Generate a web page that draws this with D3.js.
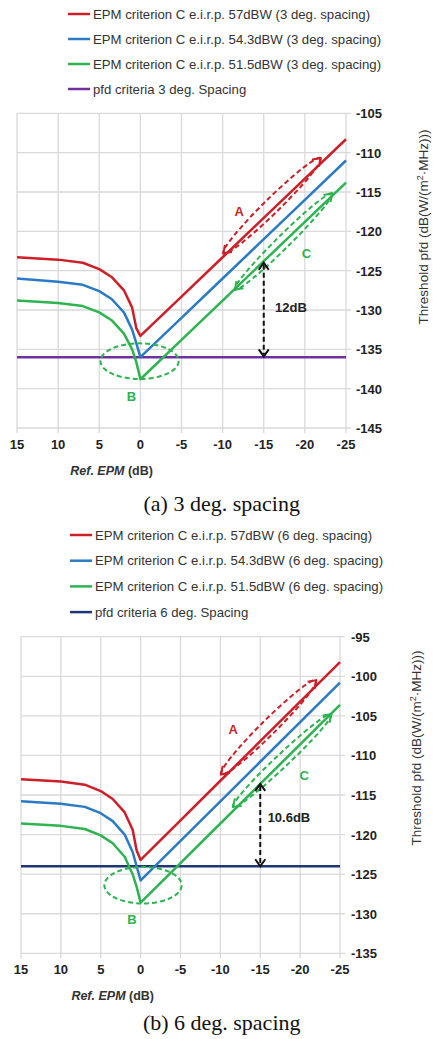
<!DOCTYPE html>
<html>
<head>
<meta charset="utf-8">
<script src="https://cdn.jsdelivr.net/npm/d3@7"></script>
<style>
  body { margin: 0; background: #fff; }
  svg { display: block; }
</style>
</head>
<body>
<script>
var W = 433, H = 1039;

// data
var epmX = [15, 10, 7, 5, 3.5, 2, 1, 0.5, 0, -5, -10, -15, -20, -25];

var red3 = [-123.3, -123.6, -124.0, -124.8, -125.8, -127.5, -129.7, -132.3, -133.3, -128.3, -123.3, -118.3, -113.3, -108.3];
var blue3 = [-126.0, -126.4, -126.8, -127.6, -128.6, -130.3, -132.5, -134.2, -136.0, -131.0, -126.0, -121.0, -116.0, -111.0];
var green3 = [-128.8, -129.1, -129.5, -130.3, -131.3, -133.0, -135.0, -136.6, -138.8, -133.8, -128.8, -123.8, -118.8, -113.8];
var pfd3 = -136;

var red6 = [-113.0, -113.3, -113.7, -114.5, -115.5, -117.2, -119.4, -122.0, -123.2, -118.2, -113.2, -108.2, -103.2, -98.2];
var blue6 = [-115.8, -116.1, -116.5, -117.3, -118.3, -120.0, -122.2, -124.0, -125.8, -120.8, -115.8, -110.8, -105.8, -100.8];
var green6 = [-118.6, -118.9, -119.3, -120.1, -121.1, -122.8, -125.0, -126.6, -128.6, -123.6, -118.6, -113.6, -108.6, -103.6];
var pfd6 = -124;

var xTicks = [15, 10, 5, 0, -5, -10, -15, -20, -25];
var yTicks3 = [-105, -110, -115, -120, -125, -130, -135, -140, -145];
var yTicks6 = [-95, -100, -105, -110, -115, -120, -125, -130, -135];

var legend3 = ["EPM criterion C e.i.r.p. 57dBW (3 deg. spacing)",
               "EPM criterion C e.i.r.p. 54.3dBW (3 deg. spacing)",
               "EPM criterion C e.i.r.p. 51.5dBW (3 deg. spacing)",
               "pfd criteria 3 deg. Spacing"];
var legend6 = ["EPM criterion C e.i.r.p. 57dBW (6 deg. spacing)",
               "EPM criterion C e.i.r.p. 54.3dBW (6 deg. spacing)",
               "EPM criterion C e.i.r.p. 51.5dBW (6 deg. spacing)",
               "pfd criteria 6 deg. Spacing"];

var RED = "#cc1f27", BLUE = "#2a7ac6", GREEN = "#2db350";

var svg = d3.select("body").append("svg")
    .attr("width", W)
    .attr("height", H);

var sans = "'Liberation Sans', Arial, sans-serif";

drawPanel({
    left: 17, right: 346, top: 113.3, bottom: 428,
    yDomain: [-145, -105], yTicks: yTicks3,
    series: [red3, blue3, green3], pfd: pfd3, pfdColor: "#7030a0",
    legend: legend3, legX: 68, legY: 14, legStep: 25,
    tickLabelX: 356, titleX: 428, titleY: 227,
    xLabelY: 449, xTitleY: 475, caption: "(a) 3 deg. spacing", captionY: 511,
    ellA: [[-10.1, -122.8], [-21.9, -110.7]], labA: [-12, -117.6],
    ellC: [[-11.5, -127.4], [-23.3, -115.2]], labC: [-20.2, -122.9],
    ellB: [0.1, -136.5, 4.75, 2.26], labB: [1.1, -141],
    arrow: [-15, -124.0, -135.9], arrowLabel: "12dB", arrowLabelPos: [-18.3, -130.3]
});

drawPanel({
    left: 21, right: 340, top: 636.7, bottom: 953.3,
    yDomain: [-135, -95], yTicks: yTicks6,
    series: [red6, blue6, green6], pfd: pfd6, pfdColor: "#1f3575",
    legend: legend6, legX: 70, legY: 535, legStep: 25.7,
    tickLabelX: 351, titleX: 421, titleY: 748,
    xLabelY: 974, xTitleY: 1000, caption: "(b) 6 deg. spacing", captionY: 1030,
    ellA: [[-10.1, -112.4], [-22.0, -100.5]], labA: [-11.6, -106.8],
    ellC: [[-11.6, -116.5], [-23.9, -104.8]], labC: [-20.5, -112.6],
    ellB: [-0.3, -126.4, 4.85, 2.3], labB: [1.1, -130.8],
    arrow: [-15, -113.6, -124.0], arrowLabel: "10.6dB", arrowLabelPos: [-18.6, -118.4]
});

function drawPanel(c) {
    var x = d3.scaleLinear().domain([15, -25]).range([c.left, c.right]);
    var y = d3.scaleLinear().domain(c.yDomain).range([c.bottom, c.top]);
    var g = svg.append("g");

    // grid
    g.selectAll(".vg").data(xTicks).enter().append("line")
        .attr("x1", d => x(d)).attr("x2", d => x(d))
        .attr("y1", c.top).attr("y2", c.bottom + 5)
        .attr("stroke", "#d9d9d9").attr("stroke-width", 1.3);
    g.selectAll(".hg").data(c.yTicks).enter().append("line")
        .attr("x1", c.left).attr("x2", c.right + 5)
        .attr("y1", d => y(d)).attr("y2", d => y(d))
        .attr("stroke", "#d9d9d9").attr("stroke-width", 1.3);

    // tick labels
    g.selectAll(".xl").data(xTicks).enter().append("text")
        .attr("x", d => x(d)).attr("y", c.xLabelY)
        .attr("text-anchor", "middle")
        .style("font", "bold 13px " + sans).attr("fill", "#222")
        .text(d => d);
    g.selectAll(".yl").data(c.yTicks).enter().append("text")
        .attr("x", c.tickLabelX).attr("y", d => y(d) + 5)
        .style("font", "bold 13px " + sans).attr("fill", "#222")
        .text(d => d);

    var xt = g.append("text").attr("x", x(3.5)).attr("y", c.xTitleY)
        .attr("text-anchor", "middle")
        .style("font", "bold 12.5px " + sans).attr("fill", "#333");
    xt.append("tspan").style("font-style", "italic").text("Ref. EPM");
    xt.append("tspan").text(" (dB)");

    var yt = g.append("text")
        .attr("transform", "translate(" + c.titleX + "," + c.titleY + ") rotate(-90)")
        .attr("text-anchor", "middle")
        .style("font", "13.5px " + sans).attr("fill", "#333");
    yt.append("tspan").text("Threshold pfd (dB(W/(m");
    yt.append("tspan").attr("dy", -5).style("font-size", "9px").text("2");
    yt.append("tspan").attr("dy", 5).text("\u00b7MHz)))");

    // pfd line
    g.append("line")
        .attr("x1", x(15)).attr("x2", x(-25))
        .attr("y1", y(c.pfd)).attr("y2", y(c.pfd))
        .attr("stroke", c.pfdColor).attr("stroke-width", 2.5);

    var line = d3.line().x((d, i) => x(epmX[i])).y(d => y(d));
    var cols = [RED, BLUE, GREEN];
    c.series.forEach(function (s, i) {
        g.append("path").datum(s)
            .attr("d", line)
            .attr("fill", "none")
            .attr("stroke", cols[i])
            .attr("stroke-width", 2.5)
            .attr("stroke-linejoin", "round");
    });

    // annotations
    longEllipse(g, x, y, c.ellA, 7.5, RED);
    longEllipse(g, x, y, c.ellC, 6.5, GREEN);

    g.append("ellipse")
        .attr("cx", x(c.ellB[0])).attr("cy", y(c.ellB[1]))
        .attr("rx", Math.abs(x(c.ellB[2]) - x(0)))
        .attr("ry", Math.abs(y(c.yDomain[0] + c.ellB[3]) - y(c.yDomain[0])))
        .attr("fill", "none").attr("stroke", GREEN)
        .attr("stroke-width", 2).attr("stroke-dasharray", "5,3");

    label(g, x(c.labA[0]), y(c.labA[1]), "A", RED);
    label(g, x(c.labC[0]), y(c.labC[1]), "C", GREEN);
    label(g, x(c.labB[0]), y(c.labB[1]), "B", GREEN);

    // dB arrow
    var ax = x(c.arrow[0]), ay1 = y(c.arrow[1]), ay2 = y(c.arrow[2]);
    g.append("line")
        .attr("x1", ax).attr("x2", ax).attr("y1", ay1 + 2).attr("y2", ay2 - 2)
        .attr("stroke", "#111").attr("stroke-width", 2).attr("stroke-dasharray", "5,3");
    g.append("path")
        .attr("d", "M" + (ax - 5) + "," + (ay1 + 7) + "L" + ax + "," + ay1 + "L" + (ax + 5) + "," + (ay1 + 7) +
                   "M" + (ax - 5) + "," + (ay2 - 7) + "L" + ax + "," + ay2 + "L" + (ax + 5) + "," + (ay2 - 7))
        .attr("fill", "none").attr("stroke", "#111").attr("stroke-width", 2);
    g.append("text")
        .attr("x", x(c.arrowLabelPos[0])).attr("y", y(c.arrowLabelPos[1]))
        .attr("text-anchor", "middle")
        .style("font", "bold 13px " + sans).attr("fill", "#222")
        .text(c.arrowLabel);

    // legend
    var cl = [RED, BLUE, GREEN, c.pfdColor];
    c.legend.forEach(function (t, i) {
        var ly = c.legY + i * c.legStep;
        g.append("line")
            .attr("x1", c.legX).attr("x2", c.legX + 22)
            .attr("y1", ly).attr("y2", ly)
            .attr("stroke", cl[i]).attr("stroke-width", 2.5);
        g.append("text")
            .attr("x", c.legX + 25).attr("y", ly + 4.5)
            .style("font", "13.2px " + sans).attr("fill", "#333")
            .text(t);
    });

    svg.append("text")
        .attr("x", 221.7).attr("y", c.captionY)
        .attr("text-anchor", "middle")
        .style("font", "22px 'Liberation Serif', 'Times New Roman', serif")
        .attr("fill", "#111")
        .text(c.caption);
}

function longEllipse(g, x, y, ends, ry, col) {
    var x1 = x(ends[0][0]), y1 = y(ends[0][1]),
        x2 = x(ends[1][0]), y2 = y(ends[1][1]);
    var cx = (x1 + x2) / 2, cy = (y1 + y2) / 2;
    var rx = Math.hypot(x2 - x1, y2 - y1) / 2;
    var ang = Math.atan2(y2 - y1, x2 - x1) * 180 / Math.PI;
    var e = g.append("g").attr("transform", "translate(" + cx + "," + cy + ") rotate(" + ang + ")");
    e.append("ellipse")
        .attr("rx", rx).attr("ry", ry)
        .attr("fill", "none").attr("stroke", col)
        .attr("stroke-width", 2).attr("stroke-dasharray", "5,3");
    // small heads at both tips
    e.append("path")
        .attr("d", "M" + (rx - 7) + ",-5L" + rx + ",0L" + (rx - 7) + ",5" +
                   "M" + (-rx + 7) + ",-5L" + (-rx) + ",0L" + (-rx + 7) + ",5")
        .attr("fill", "none").attr("stroke", col).attr("stroke-width", 2);
}

function label(g, px, py, t, col) {
    g.append("text")
        .attr("x", px).attr("y", py + 4)
        .attr("text-anchor", "middle")
        .style("font", "bold 13px " + sans).attr("fill", col)
        .text(t);
}
</script>
</body>
</html>
